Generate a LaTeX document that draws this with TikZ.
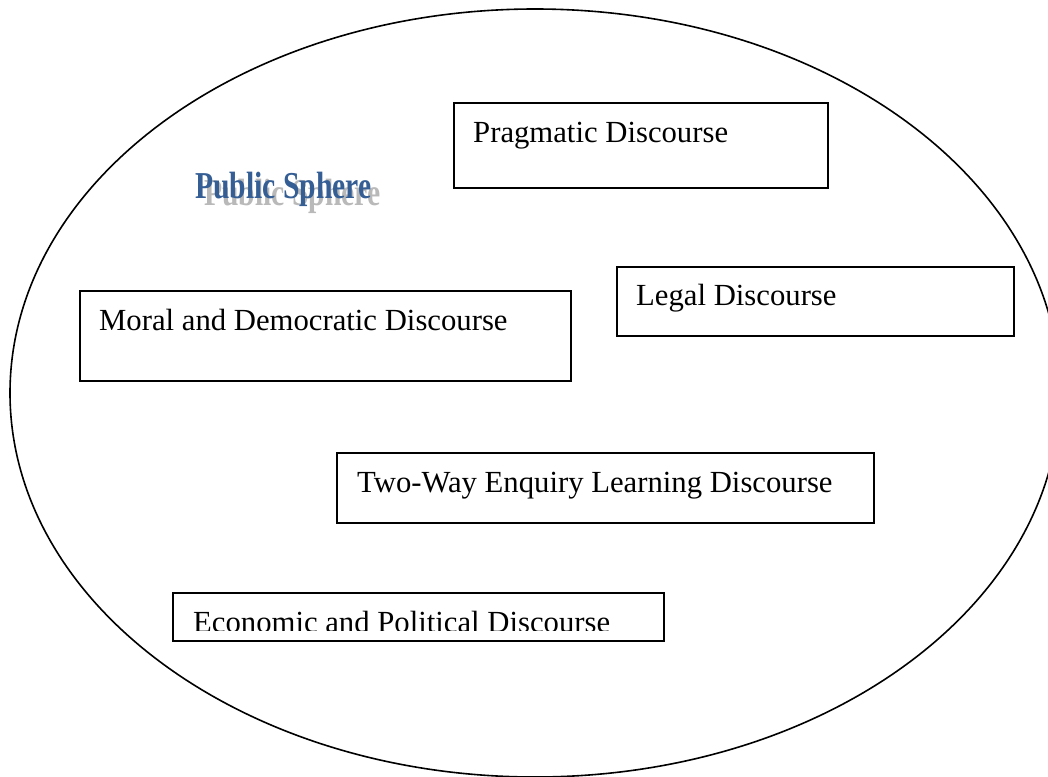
\documentclass[tikz,border=0pt]{standalone}
\usepackage{fontspec}
\setmainfont{Liberation Serif}
\definecolor{psblue}{RGB}{52,94,148}
\definecolor{psgray}{RGB}{185,185,185}
\tikzset{
  dbox/.style={draw=black, line width=1.6pt, anchor=north west, inner sep=0pt},
  dtext/.style={anchor=base west, inner sep=0pt, font=\fontsize{30.7}{36}\selectfont},
  pstext/.style={anchor=base west, inner sep=0pt, xscale=0.78, font=\bfseries\fontsize{38}{44}\selectfont}
}
\begin{document}
\begin{tikzpicture}[x=1pt,y=-1pt]
\useasboundingbox (0,0) rectangle (1048,776);
\fill[white] (0,0) rectangle (1048,776);
\draw[line width=1.6pt] (535,393) ellipse [x radius=525, y radius=384];

\node[pstext, text=psgray] (psshadow) at (204,205) {Public Sphere};
\node[pstext, text=psblue] (ps) at (195,198) {Public Sphere};

\node[dbox, minimum width=374pt, minimum height=85pt] (prag) at (453,102) {};
\node[dtext] (pragt) at (473,142) {Pragmatic Discourse};

\node[dbox, minimum width=397pt, minimum height=69pt] (legal) at (616,266) {};
\node[dtext] (legalt) at (636,305) {Legal Discourse};

\node[dbox, minimum width=491pt, minimum height=90pt] (moral) at (79,290) {};
\node[dtext] (moralt) at (99,330) {Moral and Democratic Discourse};

\node[dbox, minimum width=537pt, minimum height=70pt] (twoway) at (336,452) {};
\node[dtext] (twowayt) at (357,492) {Two-Way Enquiry Learning Discourse};

\node[dbox, minimum width=491pt, minimum height=48pt] (econ) at (172,592) {};
\begin{scope}
\clip (173,593) rectangle (662,630);
\node[dtext] (econt) at (193,632) {Economic and Political Discourse};
\end{scope}
\end{tikzpicture}
\end{document}
